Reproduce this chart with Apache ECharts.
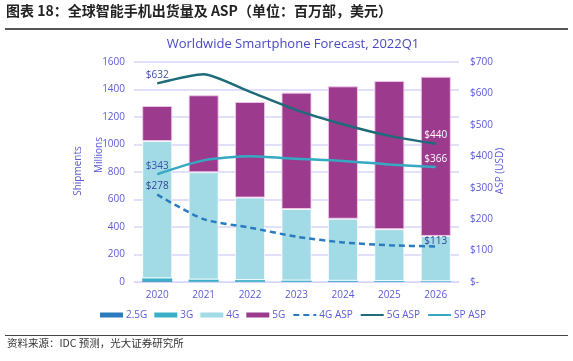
<!DOCTYPE html>
<html><head><meta charset="utf-8">
<script src="https://cdn.jsdelivr.net/npm/echarts@6/dist/echarts.min.js"></script>
<style>html,body{margin:0;padding:0;background:#fff}#c{width:573px;height:361px}</style>
</head><body><div id="c"></div>
<script>
const categories = ['2020','2021','2022','2023','2024','2025','2026'];
const g25 = [5, 3, 2, 1, 1, 1, 1];
const g3 = [22, 15, 12, 10, 8, 6, 5];
const g4 = [998, 780, 600, 520, 451, 377, 329];
const g5 = [255, 560, 695, 846, 963, 1078, 1158];
const asp4g = [278, 200, 173, 144, 126, 117, 113];
const asp5g = [632, 661, 605, 547, 502, 465, 440];
const aspSp = [343, 387, 400, 392, 385, 374, 366];
const leftTicks = {min: 0, max: 1600, interval: 200};
const rightTicks = {min: 0, max: 700, interval: 100};

const axisColor = '#5b5bd6';
const gridColor = '#d6d6fa';
const font = 'Open Sans';

function endLabels(arr, colorFirst, colorLast, distLast) {
  return arr.map((v, i) => {
    const edge = (i === 0 || i === arr.length - 1);
    return {value: v, label: {show: edge, position: 'top',
      distance: i === 0 ? 3 : distLast,
      formatter: '$' + v, color: i === 0 ? colorFirst : colorLast,
      textBorderWidth: 0, fontSize: 10, fontFamily: font}};
  });
}

const lineLegend = {itemStyle: {opacity: 0}};
const barLegend = {icon: 'rect', itemStyle: {borderWidth: 0}};

const chart = echarts.init(document.getElementById('c'), null, {renderer: 'canvas'});
chart.setOption({
  animation: false,
  backgroundColor: '#fff',
  title: {
    text: 'Worldwide Smartphone Forecast, 2022Q1',
    left: 288, top: 33, textAlign: 'center',
    textStyle: {color: '#4848c4', fontSize: 13, fontWeight: 'normal', fontFamily: font}
  },
  graphic: [
    {type: 'text', left: 6, top: 4, style: {text: '图表 18：全球智能手机出货量及 ASP（单位：百万部，美元）',
      font: 'bold 14px "Noto Sans CJK SC"', fill: '#222'}},
    {type: 'rect', shape: {x: 5, y: 28, width: 563, height: 2}, style: {fill: '#555'}},
    {type: 'rect', shape: {x: 5, y: 335, width: 563, height: 1}, style: {fill: '#444'}},
    {type: 'text', left: 7, top: 338, style: {text: '资料来源：IDC 预测，光大证券研究所',
      font: '10.5px "Noto Sans CJK SC"', fill: '#333'}},
    {type: 'text', x: 78, y: 171, rotation: Math.PI / 2, style: {text: 'Shipments',
      font: '10px "Open Sans"', fill: axisColor, align: 'center', verticalAlign: 'middle'}},
    {type: 'text', x: 99, y: 155, rotation: Math.PI / 2, style: {text: 'Millions',
      font: '10px "Open Sans"', fill: axisColor, align: 'center', verticalAlign: 'middle'}},
    {type: 'text', x: 500, y: 171, rotation: Math.PI / 2, style: {text: 'ASP (USD)',
      font: '10px "Open Sans"', fill: axisColor, align: 'center', verticalAlign: 'middle'}}
  ],
  legend: {
    left: 100, top: 310, padding: 0, itemWidth: 23, itemHeight: 5, itemGap: 7,
    textStyle: {color: axisColor, fontSize: 10, fontFamily: font, padding: [0, 0, 0, -2]},
    data: [
      Object.assign({name: '2.5G'}, barLegend), Object.assign({name: '3G'}, barLegend),
      Object.assign({name: '4G'}, barLegend), Object.assign({name: '5G'}, barLegend),
      Object.assign({name: '4G ASP'}, lineLegend),
      Object.assign({name: '5G ASP'}, lineLegend),
      Object.assign({name: 'SP ASP'}, lineLegend)
    ]
  },
  grid: {left: 134, right: 114, top: 62, bottom: 79},
  xAxis: {
    type: 'category', data: categories,
    axisLine: {lineStyle: {color: gridColor, width: 1}},
    axisTick: {show: false},
    axisLabel: {color: axisColor, fontSize: 10, fontFamily: font, margin: 8}
  },
  yAxis: [
    {type: 'value', min: leftTicks.min, max: leftTicks.max, interval: leftTicks.interval,
      axisLine: {show: false}, axisTick: {show: false},
      splitLine: {lineStyle: {color: gridColor, width: 1.5}},
      axisLabel: {color: axisColor, fontSize: 10, fontFamily: font, margin: 9,
        formatter: v => String(v)}},
    {type: 'value', min: rightTicks.min, max: rightTicks.max, interval: rightTicks.interval,
      axisLine: {show: false}, axisTick: {show: false}, splitLine: {show: false},
      axisLabel: {color: axisColor, fontSize: 10, fontFamily: font, margin: 11,
        formatter: v => v === 0 ? '$-' : '$' + v}}
  ],
  series: [
    {name: '2.5G', type: 'bar', stack: 's', barWidth: 30, data: g25, itemStyle: {color: '#2a7bbd'}},
    {name: '3G', type: 'bar', stack: 's', barWidth: 30, data: g3, itemStyle: {color: '#3ab0c8'}},
    {name: '4G', type: 'bar', stack: 's', barWidth: 30, data: g4,
      itemStyle: {color: '#a2dbe6', borderColor: 'rgba(255,255,255,0.7)', borderWidth: 1}},
    {name: '5G', type: 'bar', stack: 's', barWidth: 30, data: g5,
      itemStyle: {color: '#9c3b8d', borderColor: 'rgba(240,200,235,0.9)', borderWidth: 1}},
    {name: '4G ASP', type: 'line', yAxisIndex: 1, smooth: 0.25,
      symbol: 'circle', symbolSize: 0.01, showSymbol: true, z: 5, zlevel: 1,
      data: endLabels(asp4g, '#2f4596', '#2f4596', 0),
      lineStyle: {color: '#2a7bc0', width: 2.5, type: [6, 4]}, itemStyle: {color: '#2a7bc0'}},
    {name: '5G ASP', type: 'line', yAxisIndex: 1, smooth: 0.2,
      symbol: 'circle', symbolSize: 0.01, showSymbol: true, z: 5, zlevel: 1,
      data: endLabels(asp5g, '#3a4fa8', '#ffffff', 4),
      lineStyle: {color: '#1e6b79', width: 2.5}, itemStyle: {color: '#1e6b79'}},
    {name: 'SP ASP', type: 'line', yAxisIndex: 1, smooth: 0.25,
      symbol: 'circle', symbolSize: 0.01, showSymbol: true, z: 5, zlevel: 1,
      data: endLabels(aspSp, '#3a4fa8', '#ffffff', 3),
      lineStyle: {color: '#36a9c2', width: 2.5}, itemStyle: {color: '#36a9c2'}}
  ]
});
</script></body></html>
